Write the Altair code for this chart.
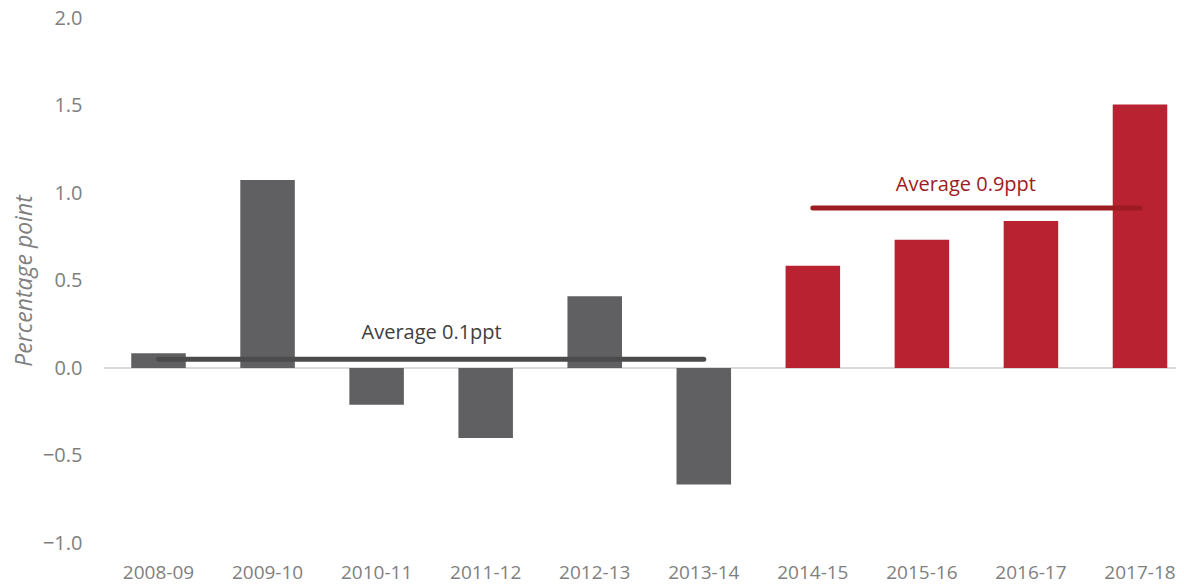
import altair as alt
import pandas as pd

years = ["2008-09", "2009-10", "2010-11", "2011-12", "2012-13",
         "2013-14", "2014-15", "2015-16", "2016-17", "2017-18"]
changes = [0.085, 1.074, -0.21, -0.40, 0.41, -0.665, 0.585, 0.733, 0.84, 1.506]
groups = ["before"] * 6 + ["after"] * 4

avg_groups = ["before", "after"]
avg_start = ["2008-09", "2014-15"]
avg_end = ["2013-14", "2017-18"]
avg_values = [0.05, 0.915]
avg_texts = ["Average 0.1ppt", "Average 0.9ppt"]
avg_label_at = ["2010-11", "2015-16"]

FONT = "Open Sans"
GREY_BAR = "#606062"
RED_BAR = "#B92230"
GREY_LINE = "#4b4b4b"
RED_LINE = "#9c1c22"

bars_df = pd.DataFrame({"year": years, "change": changes, "group": groups})
avg_df = pd.DataFrame({
    "group": avg_groups, "start": avg_start, "end": avg_end,
    "avg": avg_values, "text": avg_texts, "label_at": avg_label_at,
})

x_scale = alt.Scale(domain=years, paddingInner=0.5, paddingOuter=0.165, align=0.757)
y_scale = alt.Scale(domain=[-1.0, 2.0], nice=False, zero=False)

zero = alt.Chart(bars_df).mark_rule(color="#d9d9d9", strokeWidth=1.2).encode(
    y=alt.datum(0)
)

bars = alt.Chart(bars_df).mark_bar().encode(
    x=alt.X("year:N", scale=x_scale, sort=years,
            axis=alt.Axis(title=None, labelAngle=0, domain=False, ticks=False,
                          labelPadding=20, labelFontSize=19, labelFont=FONT,
                          labelColor="#7f7f7f", grid=False)),
    y=alt.Y("change:Q", scale=y_scale,
            axis=alt.Axis(title="Percentage point", values=[-1.0, -0.5, 0.0, 0.5, 1.0, 1.5, 2.0],
                          format=".1f", domain=False, ticks=False, grid=False,
                          labelPadding=22, labelFontSize=20, labelFont=FONT,
                          labelColor="#7f7f7f", titleFont=FONT, titleFontSize=23,
                          titleFontStyle="italic", titleFontWeight="normal",
                          titleColor="#7f7f7f", titlePadding=6)),
    color=alt.Color("group:N", scale=alt.Scale(domain=["before", "after"],
                                               range=[GREY_BAR, RED_BAR]), legend=None),
)

lines = alt.Chart(avg_df).mark_rule(strokeWidth=5, strokeCap="round").encode(
    x=alt.X("start:N", scale=x_scale, sort=years),
    x2="end:N",
    y=alt.Y("avg:Q", scale=y_scale),
    color=alt.Color("group:N", scale=alt.Scale(domain=["before", "after"],
                                               range=[GREY_LINE, RED_LINE]), legend=None),
)

label_grey = alt.Chart(avg_df[avg_df.group == "before"]).mark_text(
    font=FONT, fontSize=20, color="#404040", dx=55, dy=-26, baseline="middle"
).encode(
    x=alt.X("label_at:N", scale=x_scale, sort=years),
    y=alt.Y("avg:Q", scale=y_scale),
    text="text:N",
)

label_red = alt.Chart(avg_df[avg_df.group == "after"]).mark_text(
    font=FONT, fontSize=20, color=RED_LINE, dx=44, dy=-23, baseline="middle"
).encode(
    x=alt.X("label_at:N", scale=x_scale, sort=years),
    y=alt.Y("avg:Q", scale=y_scale),
    text="text:N",
)

chart = alt.layer(zero, bars, lines, label_grey, label_red).resolve_scale(
    color="independent"
).properties(
    width=1072, height=525,
    background="white",
    autosize=alt.AutoSizeParams(type="none"),
    padding={"left": 96, "top": 10, "right": 0, "bottom": 40},
).configure_view(strokeWidth=0)

chart.save("out.html", embed_options={"renderer": "svg", "actions": False})
